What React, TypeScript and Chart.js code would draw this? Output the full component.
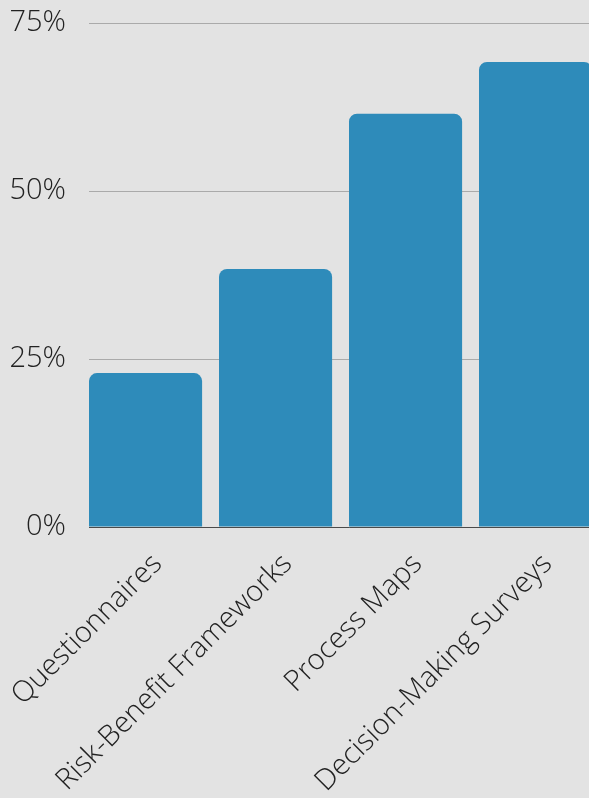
import React, { useEffect, useRef } from "react";
import { Chart, registerables } from "chart.js";

Chart.register(...registerables);

const categories = ["Questionnaires", "Risk-Benefit Frameworks", "Process Maps", "Decision-Making Surveys"];
const positions = [0, 1, 2, 3];
const values = [22.9, 38.4, 61.5, 69.2];
const yTicks = [0, 25, 50, 75];

const BG = "#e3e3e3";
const BAR = "#2e8bba";
const FONT = "'Open Sans', sans-serif";
const W = 620;
const H = 798;

export default function App() {
  const ref = useRef<HTMLCanvasElement | null>(null);

  useEffect(() => {
    document.documentElement.style.overflow = "hidden";
    document.documentElement.style.background = BG;
    document.body.style.background = BG;
    document.body.style.margin = "0";
    const canvas = ref.current;
    if (!canvas) return;
    const chart = new Chart(canvas, {
      type: "bar",
      data: {
        datasets: [
          {
            data: positions.map((p, i) => ({ x: p, y: values[i] })),
            backgroundColor: BAR,
            borderRadius: { topLeft: 8, topRight: 8, bottomLeft: 0, bottomRight: 0 },
            borderSkipped: false,
            barPercentage: 0.87,
            categoryPercentage: 1,
          },
        ],
      },
      options: {
        responsive: false,
        animation: false,
        layout: { padding: { top: 23, right: 11, left: 0, bottom: 0 } },
        plugins: { legend: { display: false }, tooltip: { enabled: false } },
        scales: {
          x: {
            type: "linear",
            offset: false,
            z: 1,
            min: -0.435,
            max: 3.565,
            afterBuildTicks: (s: any) => {
              s.ticks = positions.map((p) => ({ value: p }));
            },
            grid: { display: false, drawTicks: false },
            border: { display: true, color: "#4a4a4a", width: 1 },
            ticks: {
              color: "#222222",
              font: { family: FONT, size: 29, weight: 300 },
              maxRotation: 45,
              minRotation: 45,
              padding: 20,
              labelOffset: 12,
              autoSkip: false,
              callback: (v: any) => categories[Math.round(Number(v))] ?? "",
            },
            afterFit: (s: any) => {
              s.height = H - 527;
              s.paddingLeft = 0;
              s.paddingRight = 0;
            },
          },
          y: {
            min: 0,
            max: 75,
            afterBuildTicks: (s: any) => {
              s.ticks = yTicks.map((v) => ({ value: v }));
            },
            grid: { color: "#aaaaaa", lineWidth: 1, drawTicks: false },
            border: { display: false },
            ticks: {
              color: "#222222",
              font: { family: FONT, size: 29, weight: 300 },
              padding: 23,
              callback: (v: any) => `${v}%`,
            },
            afterFit: (s: any) => {
              s.width = 89;
              s.paddingTop = 0;
              s.paddingBottom = 0;
            },
          },
        },
      },
    });
    return () => chart.destroy();
  }, []);

  return (
    <div style={{ width: 589, height: H, overflow: "hidden", position: "relative", background: BG }}>
      <canvas ref={ref} width={W} height={H} style={{ display: "block", width: W, height: H }} />
    </div>
  );
}
